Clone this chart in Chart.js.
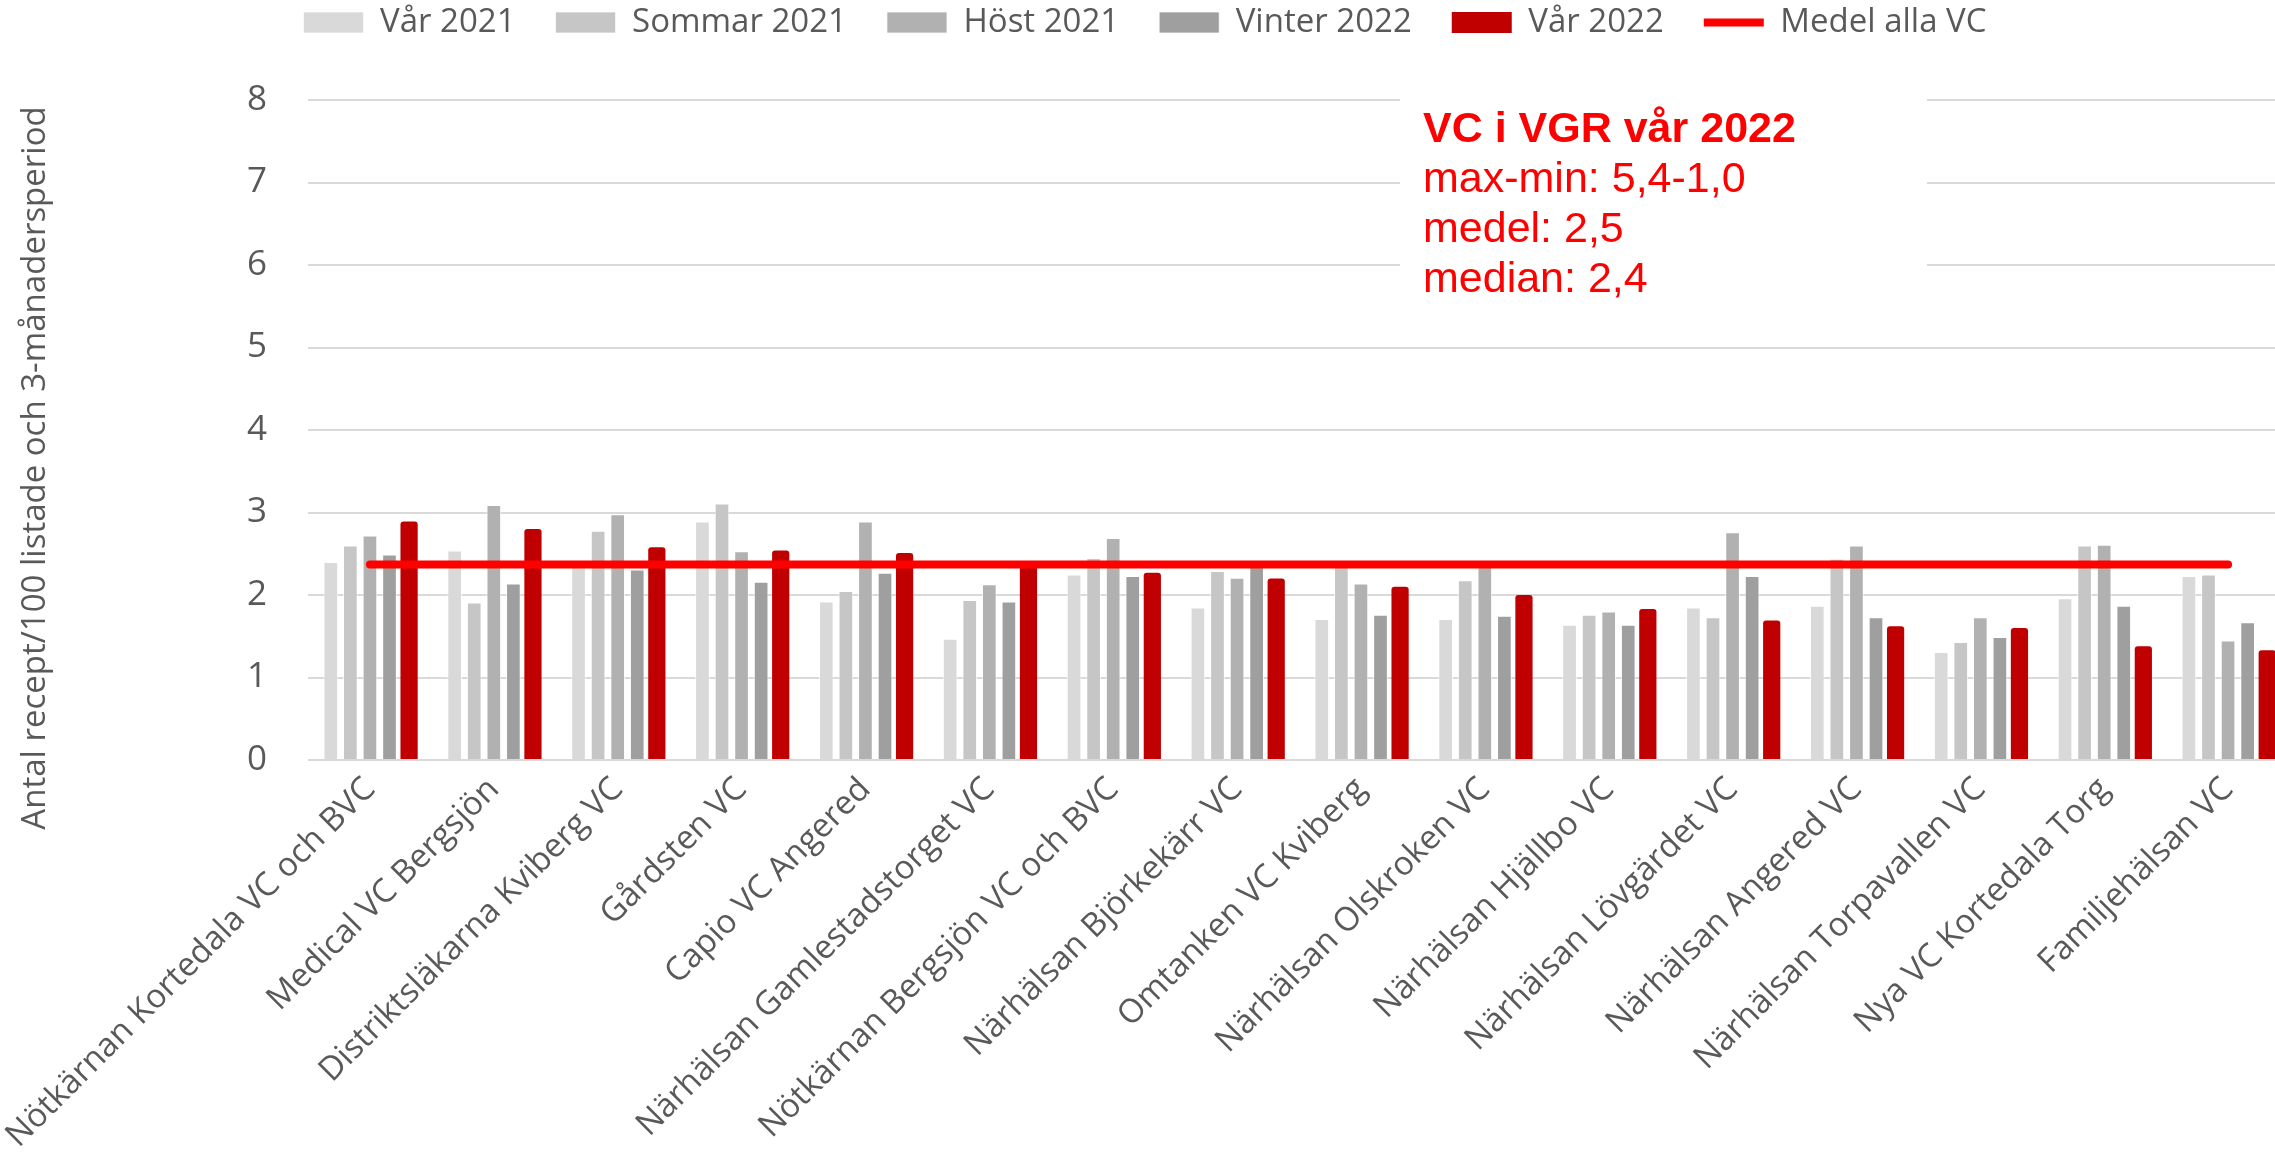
<!DOCTYPE html>
<html lang="sv">
<head>
<meta charset="utf-8">
<title>Antal recept/100 listade</title>
<script src="https://cdn.jsdelivr.net/npm/chart.js@4.4.1/dist/chart.umd.min.js"></script>
<style>
  html, body { margin: 0; padding: 0; background: #fff; overflow: hidden; }
  #wrap { position: relative; width: 2300px; height: 1159px; }
</style>
</head>
<body>
<div id="wrap"><canvas id="chart"></canvas></div>
<script>
// Vårdcentraler (kategorier)
const vardcentraler = [
  'Nötkärnan Kortedala VC och BVC', 'Medical VC Bergsjön', 'Distriktsläkarna Kviberg VC',
  'Gårdsten VC', 'Capio VC Angered', 'Närhälsan Gamlestadstorget VC',
  'Nötkärnan Bergsjön VC och BVC', 'Närhälsan Björkekärr VC', 'Omtanken VC Kviberg',
  'Närhälsan Olskroken VC', 'Närhälsan Hjällbo VC', 'Närhälsan Lövgärdet VC',
  'Närhälsan Angered VC', 'Närhälsan Torpavallen VC', 'Nya VC Kortedala Torg', 'Familjehälsan VC'
];

// Serier
const var2021    = [2.40, 2.54, 2.35, 2.89, 1.92, 1.47, 2.25, 1.85, 1.71, 1.71, 1.64, 1.85, 1.87, 1.31, 1.96, 2.23];
const sommar2021 = [2.60, 1.91, 2.78, 3.11, 2.05, 1.94, 2.45, 2.29, 2.35, 2.18, 1.76, 1.73, 2.44, 1.43, 2.60, 2.25];
const host2021   = [2.72, 3.09, 2.98, 2.53, 2.89, 2.13, 2.69, 2.21, 2.14, 2.36, 1.80, 2.76, 2.60, 1.73, 2.61, 1.45];
const vinter2022 = [2.49, 2.14, 2.31, 2.16, 2.27, 1.92, 2.23, 2.36, 1.76, 1.75, 1.64, 2.23, 1.73, 1.49, 1.87, 1.67];
const var2022    = [2.89, 2.80, 2.58, 2.54, 2.51, 2.38, 2.27, 2.20, 2.10, 2.00, 1.83, 1.69, 1.62, 1.60, 1.38, 1.33];
const medelAllaVC = [2.37, 2.37, 2.37, 2.37, 2.37, 2.37, 2.37, 2.37, 2.37, 2.37, 2.37, 2.37, 2.37, 2.37, 2.37, 2.37];

const serieNamn = ['Vår 2021', 'Sommar 2021', 'Höst 2021', 'Vinter 2022', 'Vår 2022', 'Medel alla VC'];
const yTicks = [0, 1, 2, 3, 4, 5, 6, 7, 8];

const yTitel = 'Antal recept/100 listade och 3-månadersperiod';
const rutaRader = ['VC i VGR vår 2022', 'max-min: 5,4-1,0', 'medel: 2,5', 'median: 2,4'];

const gra = '#595959';

// grå staplar, samma stil
function grauSerie(label, data, farg) {
  return {
    type: 'bar', label: label, data: data,
    backgroundColor: farg, borderColor: 'rgba(255,255,255,0.7)', borderWidth: 1,
    barPercentage: 0.75, categoryPercentage: 0.79, pointStyle: 'rect', order: 1
  };
}

// Textruta uppe till höger
const rutaPlugin = {
  id: 'ruta',
  beforeDatasetsDraw(chart) {
    const ctx = chart.ctx;
    ctx.save();
    ctx.fillStyle = '#ffffff';
    ctx.fillRect(1400, 68, 527, 250);
    ctx.fillStyle = '#ff0000';
    ctx.textAlign = 'left';
    ctx.textBaseline = 'alphabetic';
    rutaRader.forEach(function(rad, i) {
      ctx.font = (i === 0 ? 'bold ' : '') + '43px "Liberation Sans", Arial, sans-serif';
      ctx.fillText(rad, 1423, 142 + i * 50);
    });
    ctx.restore();
  }
};

// Y-axelns titel
const yTitelPlugin = {
  id: 'yTitel',
  afterDraw(chart) {
    const ctx = chart.ctx;
    ctx.save();
    ctx.translate(36, 468);
    ctx.rotate(-Math.PI / 2);
    ctx.font = '33px "Open Sans", sans-serif';
    ctx.fillStyle = gra;
    ctx.textAlign = 'center';
    ctx.textBaseline = 'middle';
    ctx.fillText(yTitel, 0, 0);
    ctx.restore();
  }
};

// fast höjd på legenden så att diagrammet börjar på rätt ställe
const legendHojd = {
  id: 'legendHojd',
  beforeInit(chart) {
    const fit = chart.legend.fit;
    chart.legend.fit = function() {
      fit.bind(chart.legend)();
      this.height = 134;
    };
  }
};

const chart = new Chart(document.getElementById('chart'), {
  data: {
    labels: vardcentraler,
    datasets: [
      grauSerie(serieNamn[0], var2021, '#d9d9d9'),
      grauSerie(serieNamn[1], sommar2021, '#c6c6c6'),
      grauSerie(serieNamn[2], host2021, '#b1b1b1'),
      grauSerie(serieNamn[3], vinter2022, '#9f9f9f'),
      {
        type: 'bar', label: serieNamn[4], data: var2022,
        backgroundColor: '#c00000', borderWidth: 0, borderRadius: 3, borderSkipped: 'bottom',
        barPercentage: 0.88, categoryPercentage: 0.79, pointStyle: 'rect', order: 1
      },
      {
        type: 'line', label: serieNamn[5], data: medelAllaVC,
        borderColor: '#ff0000', backgroundColor: '#ff0000', borderWidth: 8,
        borderCapStyle: 'round', pointRadius: 0, pointHoverRadius: 0,
        pointStyle: 'line', fill: false, order: 0
      }
    ]
  },
  options: {
    responsive: true,
    maintainAspectRatio: false,
    animation: false,
    layout: { padding: { left: 0, right: 10, top: -34, bottom: 0 } },
    plugins: {
      tooltip: { enabled: false },
      legend: {
        position: 'top',
        labels: {
          font: { family: '"Open Sans", sans-serif', size: 33 },
          color: gra,
          usePointStyle: true,
          pointStyleWidth: 60,
          boxHeight: 21,
          padding: 40,
          sort: function(a, b) { return a.datasetIndex - b.datasetIndex; }
        }
      }
    },
    scales: {
      x: {
        offset: true,
        grid: { display: false },
        border: { display: false },
        afterFit: function(scale) {
          scale.paddingLeft = 0;
          scale.paddingRight = 0;
          scale.height = 399;
        },
        ticks: {
          autoSkip: false,
          minRotation: 45, maxRotation: 45,
          padding: 2,
          font: { family: '"Open Sans", sans-serif', size: 33 },
          color: gra
        }
      },
      y: {
        min: yTicks[0], max: yTicks[yTicks.length - 1],
        border: { display: false },
        grid: { color: '#d9d9d9', lineWidth: 2, drawTicks: false },
        afterBuildTicks: function(axis) { axis.ticks = yTicks.map(function(v) { return { value: v }; }); },
        afterFit: function(scale) { scale.width = 308; },
        ticks: {
          padding: 41,
          font: { family: '"Open Sans", sans-serif', size: 35 },
          color: gra
        }
      }
    }
  },
  plugins: [rutaPlugin, yTitelPlugin, legendHojd]
});
</script>
</body>
</html>
